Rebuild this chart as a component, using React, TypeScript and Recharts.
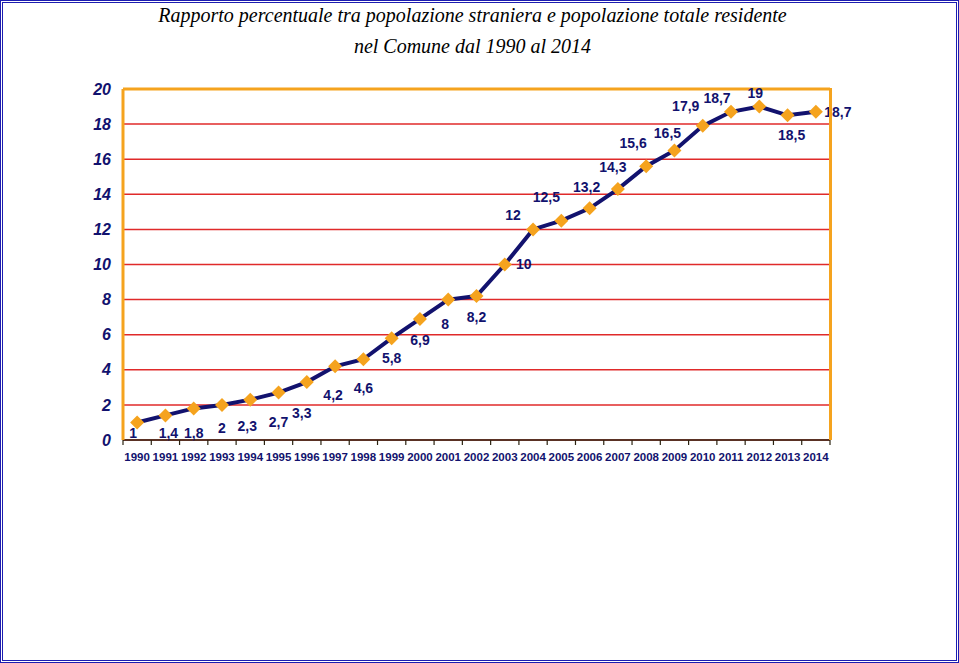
import React from "react";
import {
  CartesianGrid,
  LabelList,
  Line,
  LineChart,
  ReferenceLine,
  XAxis,
  YAxis,
} from "recharts";

const years = [
  "1990", "1991", "1992", "1993", "1994", "1995", "1996", "1997", "1998",
  "1999", "2000", "2001", "2002", "2003", "2004", "2005", "2006", "2007",
  "2008", "2009", "2010", "2011", "2012", "2013", "2014",
];
const percent = [
  1, 1.4, 1.8, 2, 2.3, 2.7, 3.3, 4.2, 4.6, 5.8, 6.9, 8, 8.2, 10, 12, 12.5,
  13.2, 14.3, 15.6, 16.5, 17.9, 18.7, 19, 18.5, 18.7,
];
const yTicks = [0, 2, 4, 6, 8, 10, 12, 14, 16, 18, 20];

const data = years.map((y, i) => ({ year: y, value: percent[i] }));

// label offsets from each point, as in the original
const labelOffsets: [number, number][] = [
  [-4, 11], [3, 18], [0, 25], [0, 23], [-3, 26], [0, 29], [-5, 31], [-2, 29],
  [0, 29], [0, 20], [0, 21], [-3, 24], [0, 21], [19, 0], [-20, -14],
  [-15, -24], [-3, -21], [-5, -22], [-13, -23], [-7, -17], [-17, -20],
  [-14, -14], [-4, -13], [4, 20], [22, 0],
];

const W = 959;
const H = 663;
const PLOT_LEFT = 123;
const PLOT_RIGHT = 830;
const PLOT_TOP = 89;
const PLOT_BOTTOM = 440;
const STEP = (PLOT_RIGHT - PLOT_LEFT) / years.length;

const NAVY = "#12126e";
const ORANGE = "#f5a31e";
const AXIS = "#2b2210";
const SANS = "'Liberation Sans', Arial, sans-serif";

function Diamond(props: any) {
  const { cx, cy } = props;
  if (cx == null || cy == null) return null;
  const r = 7;
  return (
    <polygon
      points={`${cx},${cy - r} ${cx + r},${cy} ${cx},${cy + r} ${cx - r},${cy}`}
      fill={ORANGE}
    />
  );
}

function YearTick(props: any) {
  const { x, payload, index } = props;
  const left = x - STEP / 2;
  return (
    <g>
      <line x1={left} y1={PLOT_BOTTOM} x2={left} y2={PLOT_BOTTOM + 5} stroke={AXIS} strokeWidth={1.2} />
      {index === years.length - 1 && (
        <line
          x1={x + STEP / 2}
          y1={PLOT_BOTTOM}
          x2={x + STEP / 2}
          y2={PLOT_BOTTOM + 5}
          stroke={AXIS}
          strokeWidth={1.2}
        />
      )}
      <text
        x={x}
        y={PLOT_BOTTOM + 21}
        textAnchor="middle"
        fontFamily={SANS}
        fontWeight="bold"
        fontSize={11.5}
        fill={NAVY}
      >
        {payload.value}
      </text>
    </g>
  );
}

function ValueLabel(props: any) {
  const { x, y, value, index } = props;
  const [dx, dy] = labelOffsets[index] ?? [0, -12];
  return (
    <text
      x={x + dx}
      y={y + dy}
      dy="0.35em"
      textAnchor="middle"
      fontFamily={SANS}
      fontWeight="bold"
      fontSize={14}
      fill={NAVY}
    >
      {String(value).replace(".", ",")}
    </text>
  );
}

export default function App() {
  return (
    <div
      style={{
        position: "absolute",
        left: 0,
        top: 0,
        width: W,
        height: H,
        boxSizing: "border-box",
        border: "3px double #1c1cb0",
        background: "#fff",
      }}
    >
      <div
        style={{
          position: "absolute",
          left: 0,
          width: W - 6,
          top: -3,
          textAlign: "center",
          fontFamily: "'Liberation Serif', serif",
          fontStyle: "italic",
          fontSize: 20,
          lineHeight: "31px",
          color: "#000",
          paddingRight: 14,
          boxSizing: "border-box",
        }}
      >
        <div>Rapporto percentuale tra popolazione straniera e popolazione totale residente</div>
        <div>nel Comune dal 1990 al 2014</div>
      </div>
      <div style={{ position: "absolute", left: -3, top: -3 }}>
        <LineChart
          width={W}
          height={H}
          data={data}
          margin={{ top: PLOT_TOP, right: W - PLOT_RIGHT, bottom: H - PLOT_BOTTOM - 30, left: 0 }}
        >
          <CartesianGrid vertical={false} stroke="#e02a2a" strokeWidth={1.5} />
          <XAxis
            dataKey="year"
            scale="band"
            interval={0}
            height={30}
            tickLine={false}
            axisLine={{ stroke: AXIS, strokeWidth: 1.5 }}
            tick={<YearTick />}
          />
          <YAxis
            domain={[0, 20]}
            ticks={yTicks}
            width={PLOT_LEFT}
            tickLine={false}
            tickMargin={6}
            axisLine={{ stroke: ORANGE, strokeWidth: 3 }}
            tick={{
              fontFamily: SANS,
              fontWeight: "bold",
              fontStyle: "italic",
              fontSize: 16,
              fill: NAVY,
            }}
          />
          <ReferenceLine y={20} stroke={ORANGE} strokeWidth={3} />
          <Line
            dataKey="value"
            stroke={NAVY}
            strokeWidth={4}
            dot={<Diamond />}
            activeDot={false}
            isAnimationActive={false}
          >
            <LabelList dataKey="value" content={<ValueLabel />} />
          </Line>
        </LineChart>
        <div
          style={{
            position: "absolute",
            left: PLOT_RIGHT - 1.5,
            top: PLOT_TOP - 1.5,
            width: 3,
            height: PLOT_BOTTOM - PLOT_TOP + 1.5,
            background: ORANGE,
          }}
        />
      </div>
    </div>
  );
}
